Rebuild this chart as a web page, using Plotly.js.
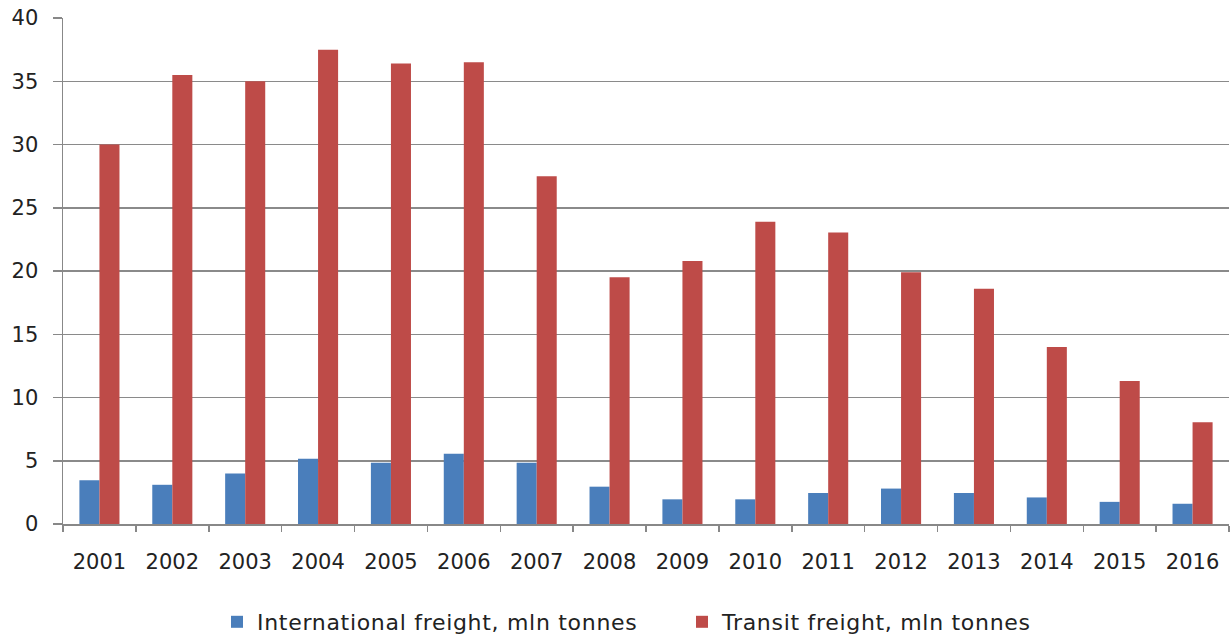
<!DOCTYPE html>
<html>
<head>
<meta charset="utf-8">
<script src="https://cdn.plot.ly/plotly-3.0.1.min.js"></script>
<style>html,body{margin:0;padding:0;background:#fff;}#chart{width:1231px;height:636px;}.legendtext{letter-spacing:0.7px;}</style>
</head>
<body>
<div id="chart"></div>
<script>
const years = ["2001","2002","2003","2004","2005","2006","2007","2008","2009","2010","2011","2012","2013","2014","2015","2016"];
const internationalFreight = [3.45, 3.1, 4.0, 5.15, 4.85, 5.55, 4.85, 2.95, 1.95, 1.95, 2.45, 2.8, 2.45, 2.1, 1.75, 1.6];
const transitFreight = [30.0, 35.5, 35.0, 37.5, 36.4, 36.5, 27.5, 19.5, 20.8, 23.9, 23.05, 19.9, 18.6, 14.0, 11.3, 8.05];
const seriesNames = ["International freight, mln tonnes", "Transit freight, mln tonnes"];

const traces = [
  {type:"bar", x:years, y:internationalFreight, name:seriesNames[0], marker:{color:"#4A7EBB"}},
  {type:"bar", x:years, y:transitFreight, name:seriesNames[1], marker:{color:"#BE4B48"}}
];

const layout = {
  width:1231, height:636,
  margin:{l:63, r:2, t:18, b:112},
  paper_bgcolor:"#fff", plot_bgcolor:"#fff",
  barmode:"group", bargap:0.45, bargroupgap:0,
  font:{family:"DejaVu Sans", size:21, color:"#222"},
  xaxis:{
    type:"category", range:[-0.5,15.5], tickson:"boundaries",
    ticks:"outside", ticklen:6, tickcolor:"#888", tickwidth:1.5,
    showline:true, linecolor:"#888", linewidth:1.5,
    showgrid:false, zeroline:false,
    tickfont:{family:"DejaVu Sans", size:21, color:"#222"},
    ticklabelstandoff:18
  },
  yaxis:{
    range:[0,40], dtick:5, tick0:0,
    ticks:"outside", ticklen:9, tickcolor:"#888", tickwidth:1.5,
    showline:true, linecolor:"#888", linewidth:1.5,
    showgrid:true, gridcolor:"#8a8a8a", gridwidth:1.5,
    zeroline:false,
    tickfont:{family:"DejaVu Sans", size:21, color:"#222"},
    ticklabelstandoff:10
  },
  showlegend:true,
  legend:{
    orientation:"h", xref:"container", yref:"container",
    x:217/1231, xanchor:"left", y:(636-622)/636, yanchor:"middle",
    font:{family:"DejaVu Sans", size:22, color:"#222"},
    itemwidth:30, entrywidth:420, traceorder:"normal"
  }
};

Plotly.newPlot("chart", traces, layout, {displayModeBar:false, staticPlot:true});
</script>
</body>
</html>
